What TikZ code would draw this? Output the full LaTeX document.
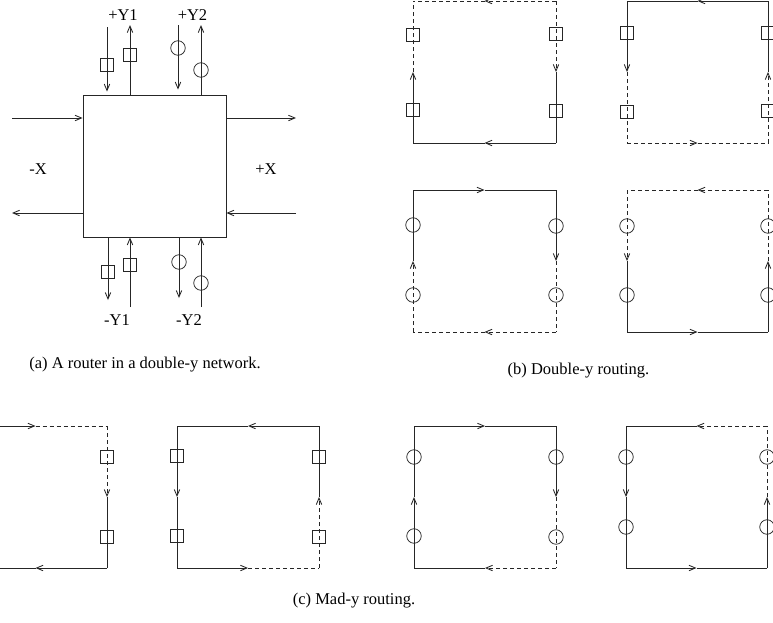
\documentclass[tikz,border=0pt]{standalone}
\usepackage{fontspec}
\setmainfont{Liberation Serif}
\usetikzlibrary{arrows.meta,calc}
\tikzset{
  ln/.style={line width=0.85pt, draw=black!85},
  sol/.style={ln},
  dsh/.style={ln, dash pattern=on 4pt off 3pt},
  tip/.style={-{Straight Barb[length=6.5pt,width=5.5pt]}},
  sq/.style={draw=black!85, line width=0.75pt, rectangle, minimum size=13pt, inner sep=0pt},
  cir/.style={draw=black!85, line width=0.75pt, circle, minimum size=14.5pt, inner sep=0pt},
  lbl/.style={font=\fontsize{16.5}{19}\selectfont, inner sep=0pt, anchor=base},
}
\newcommand\myseg[4]{%
  \draw[#3,tip] (#1) -- ($(#1)!0.5!(#2)$);
  \draw[#4] ($(#1)!0.5!(#2)$) -- (#2);}
\newcommand\mypanel[5]{%
  \coordinate (#1tl) at (#2,#4); \coordinate (#1tr) at (#3,#4);
  \coordinate (#1bl) at (#2,#5); \coordinate (#1br) at (#3,#5);}
\begin{document}
\begin{tikzpicture}[x=1pt,y=-1pt]
\useasboundingbox (0,0) rectangle (773,622);
\clip (0,0) rectangle (773,622);
% ---------- (a) router ----------
\node[draw=black!85, line width=0.85pt, inner sep=0pt, minimum width=143pt, minimum height=142pt] (rt) at (154.5,166) {};
\coordinate (y1i) at (107,27); \draw[ln,tip,shorten >=3pt] (y1i) -- (y1i |- rt.north);
\coordinate (y1o) at (130,25); \draw[ln,tip] (y1o |- rt.north) -- (y1o);
\coordinate (y2i) at (178,25); \draw[ln,tip,shorten >=5pt] (y2i) -- (y2i |- rt.north);
\coordinate (y2o) at (201,25); \draw[ln,tip] (y2o |- rt.north) -- (y2o);
\coordinate (xmi) at (12,118); \draw[ln,tip] (xmi) -- (xmi -| rt.west);
\coordinate (xmo) at (12,213); \draw[ln,tip] (xmo -| rt.west) -- (xmo);
\coordinate (xpo) at (296,118); \draw[ln,tip] (xpo -| rt.east) -- (xpo);
\coordinate (xpi) at (296,213); \draw[ln,tip] (xpi) -- (xpi -| rt.east);
\coordinate (m1o) at (108,300); \draw[ln,tip] (m1o |- rt.south) -- (m1o);
\coordinate (m1i) at (130,307); \draw[ln,tip] (m1i) -- (m1i |- rt.south);
\coordinate (m2o) at (179,298); \draw[ln,tip] (m2o |- rt.south) -- (m2o);
\coordinate (m2i) at (201,307); \draw[ln,tip] (m2i) -- (m2i |- rt.south);
\node[sq] (ra1) at (107,65) {};
\node[sq] (ra2) at (130,55) {};
\node[cir] (ra3) at (178,48) {};
\node[cir] (ra4) at (201,70) {};
\node[sq] (ra5) at (108,272) {};
\node[sq] (ra6) at (130,265) {};
\node[cir] (ra7) at (179,262) {};
\node[cir] (ra8) at (201,283) {};
\node[lbl] (ly1) at (123,20) {+Y1};
\node[lbl] (ly2) at (192.5,20) {+Y2};
\node[lbl] (lxm) at (38,174) {-X};
\node[lbl] (lxp) at (266,174) {+X};
\node[lbl] (lm1) at (117,325) {-Y1};
\node[lbl] (lm2) at (189,325) {-Y2};
\node[lbl] (capa) at (145,368) {(a) A router in a double-y network.};
\node[lbl] (capb) at (578.5,374) {(b) Double-y routing.};
\node[lbl] (capc) at (354,604) {(c) Mad-y routing.};
% ---------- (b) double-y ----------
\mypanel{ba}{413}{556}{1}{143}
\myseg{batr}{batl}{dsh}{dsh}
\myseg{babl}{batl}{sol}{dsh}
\myseg{batr}{babr}{dsh}{sol}
\myseg{babr}{babl}{sol}{sol}
\node[sq] (ba1) at (413,35) {}; \node[sq] (ba2) at (413,110) {};
\node[sq] (ba3) at (556,34) {}; \node[sq] (ba4) at (556,111) {};
\mypanel{bb}{627}{768}{1}{143}
\myseg{bbtr}{bbtl}{sol}{sol}
\myseg{bbtl}{bbbl}{sol}{dsh}
\myseg{bbbr}{bbtr}{dsh}{sol}
\myseg{bbbl}{bbbr}{dsh}{dsh}
\node[sq] (bb1) at (627,33) {}; \node[sq] (bb2) at (627,112) {};
\node[sq] (bb3) at (768,33) {}; \node[sq] (bb4) at (768,111) {};
\mypanel{bc}{413}{556}{190}{332}
\myseg{bctl}{bctr}{sol}{sol}
\myseg{bcbl}{bctl}{dsh}{sol}
\myseg{bctr}{bcbr}{sol}{dsh}
\myseg{bcbr}{bcbl}{dsh}{dsh}
\node[cir] (bc1) at (413,225) {}; \node[cir] (bc2) at (413,295) {};
\node[cir] (bc3) at (556,226) {}; \node[cir] (bc4) at (556,295) {};
\mypanel{bd}{627}{768}{190}{332}
\myseg{bdtr}{bdtl}{dsh}{dsh}
\myseg{bdtl}{bdbl}{dsh}{sol}
\myseg{bdbr}{bdtr}{sol}{dsh}
\myseg{bdbl}{bdbr}{sol}{sol}
\node[cir] (bd1) at (627,226) {}; \node[cir] (bd2) at (627,295) {};
\node[cir] (bd3) at (768,226) {}; \node[cir] (bd4) at (768,295) {};
% ---------- (c) mad-y ----------
\mypanel{ca}{-36}{107}{426}{568}
\myseg{catl}{catr}{sol}{dsh}
\myseg{catr}{cabr}{dsh}{sol}
\myseg{cabr}{cabl}{sol}{sol}
\node[sq] (ca1) at (107,457) {}; \node[sq] (ca2) at (107,537) {};
\mypanel{cb}{177}{319}{426}{568}
\myseg{cbtr}{cbtl}{sol}{sol}
\myseg{cbtl}{cbbl}{sol}{sol}
\myseg{cbbr}{cbtr}{dsh}{sol}
\myseg{cbbl}{cbbr}{sol}{dsh}
\node[sq] (cb1) at (177,456) {}; \node[sq] (cb2) at (177,536) {};
\node[sq] (cb3) at (319,457) {}; \node[sq] (cb4) at (319,537) {};
\mypanel{cc}{414}{556}{426}{568}
\myseg{cctl}{cctr}{sol}{sol}
\myseg{ccbl}{cctl}{sol}{sol}
\myseg{cctr}{ccbr}{sol}{dsh}
\myseg{ccbr}{ccbl}{dsh}{sol}
\node[cir] (cc1) at (414,457) {}; \node[cir] (cc2) at (414,536) {};
\node[cir] (cc3) at (556,457) {}; \node[cir] (cc4) at (556,537) {};
\mypanel{cd}{626}{767}{426}{568}
\myseg{cdtr}{cdtl}{dsh}{sol}
\myseg{cdtl}{cdbl}{sol}{sol}
\myseg{cdbr}{cdtr}{sol}{dsh}
\myseg{cdbl}{cdbr}{sol}{sol}
\node[cir] (cd1) at (626,457) {}; \node[cir] (cd2) at (626,527) {};
\node[cir] (cd3) at (767,457) {}; \node[cir] (cd4) at (767,527) {};
\end{tikzpicture}
\end{document}
